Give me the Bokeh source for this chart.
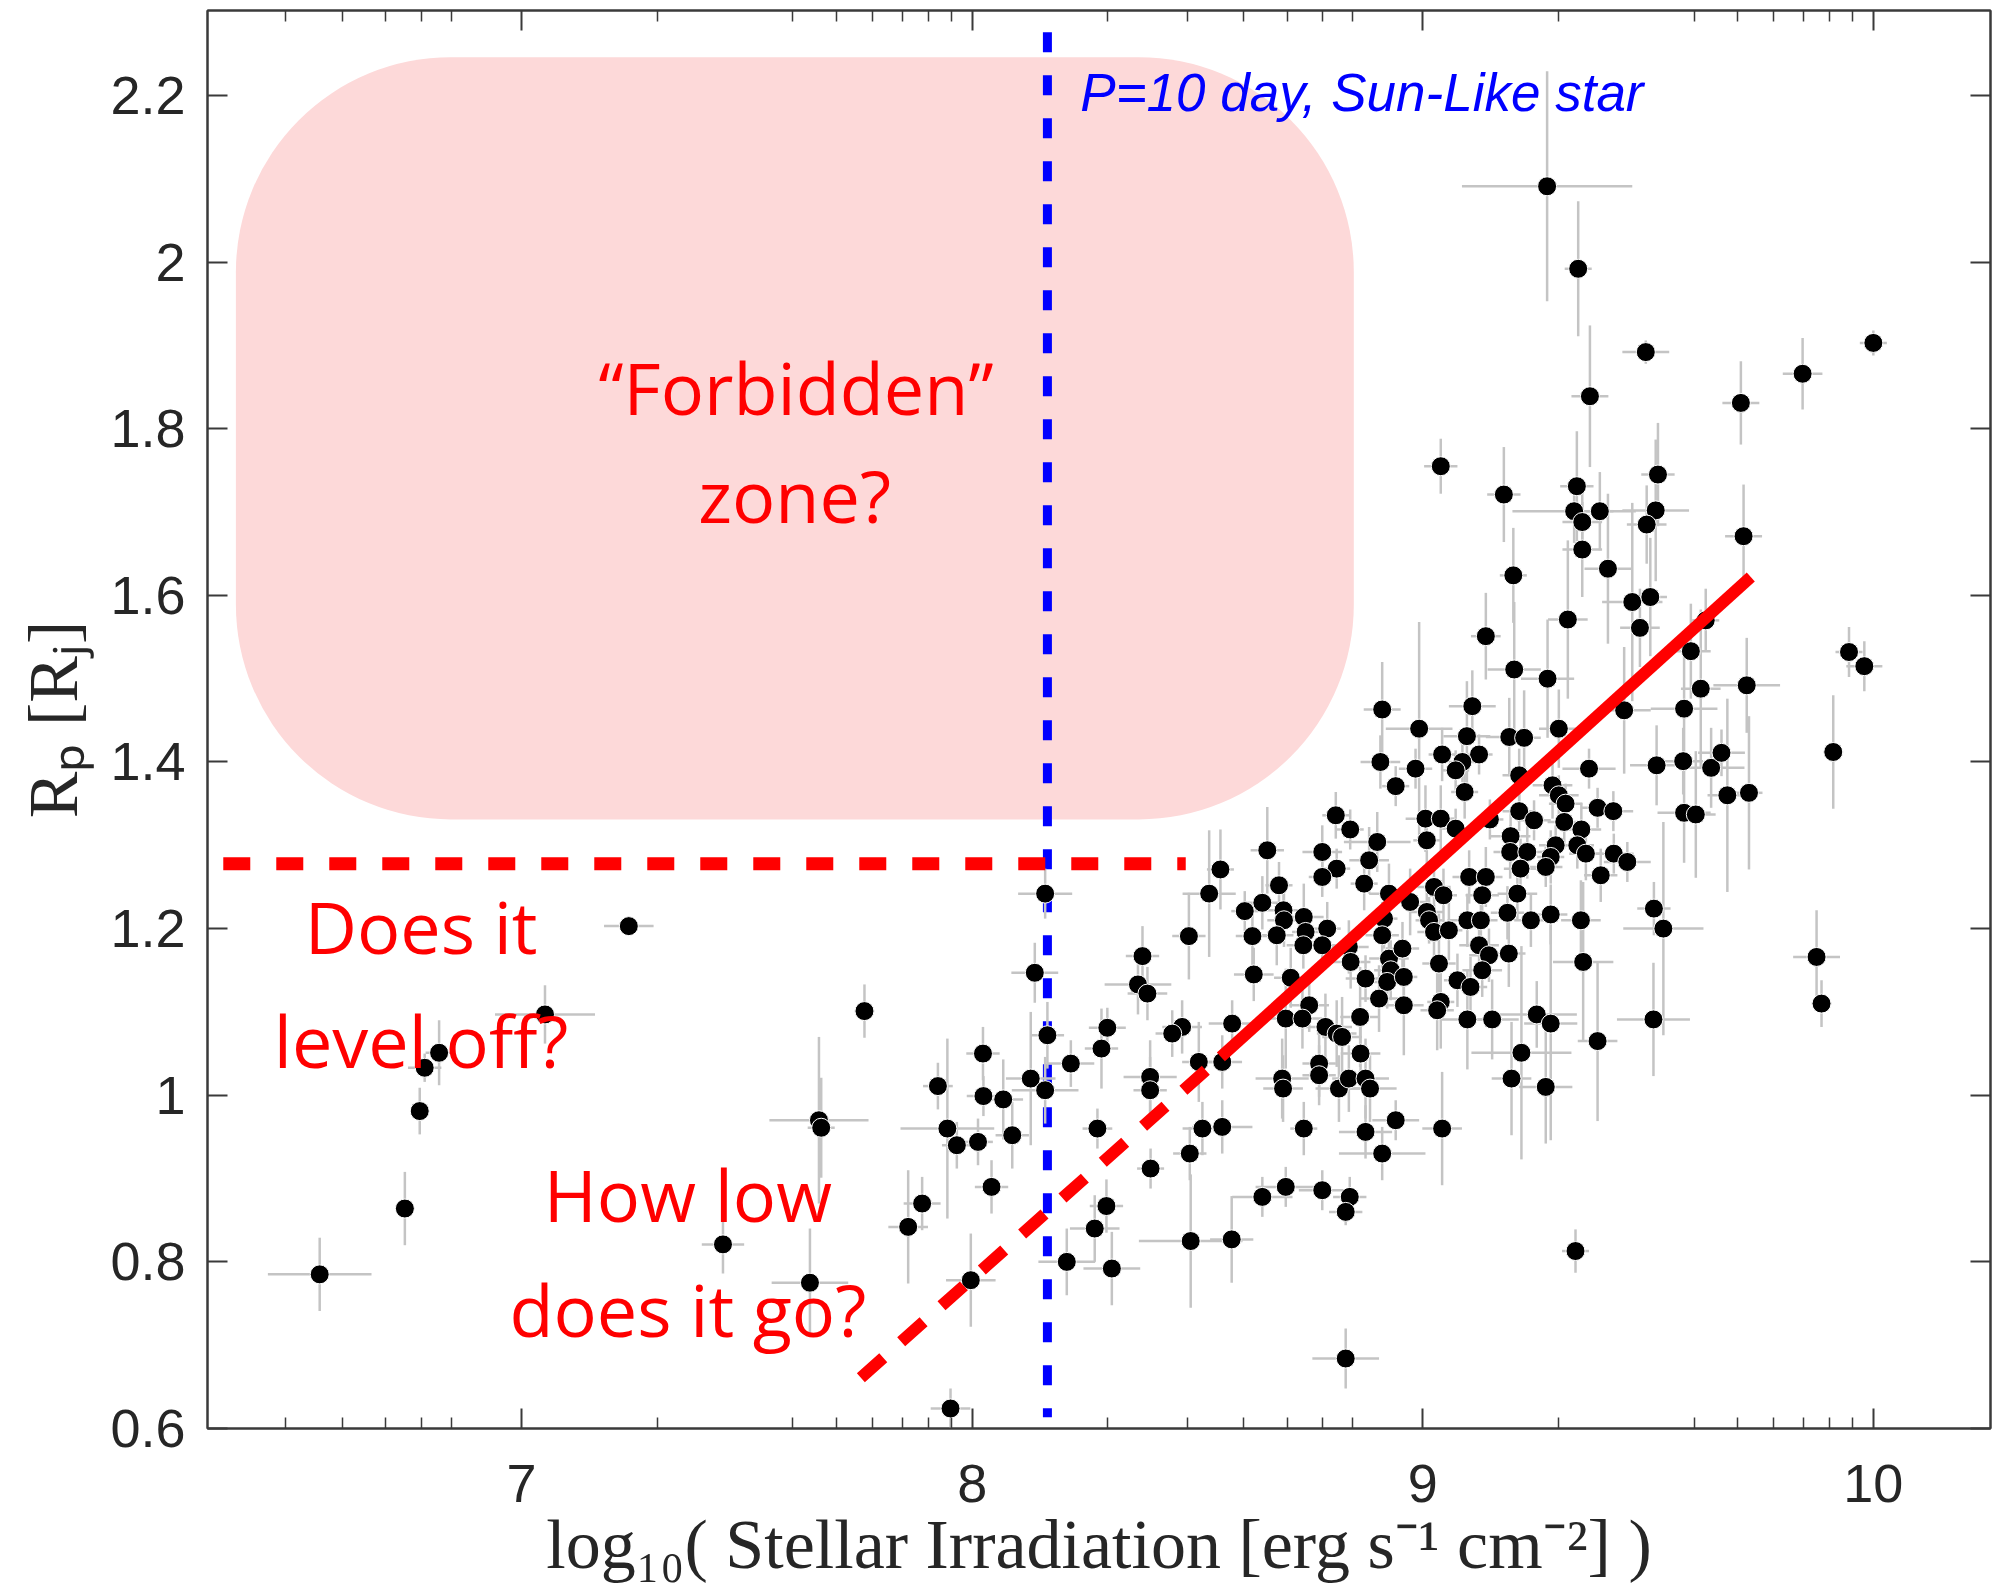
from bokeh.plotting import figure
from bokeh.models import (Range1d, LinearAxis, FixedTicker, CustomJSTickFormatter,
                          BoxAnnotation, Label)
from bokeh.embed import file_html
from bokeh.resources import INLINE

# ---------------- data ----------------
# log10 stellar irradiation, planet radius [R_J], and their error half-widths
irr = [
    8.906, 8.984, 8.940, 9.043, 8.807, 8.839, 9.006, 9.040, 9.009, 8.551,
    8.526, 8.655, 8.681, 8.777, 8.809, 8.777, 8.881, 8.870, 8.899, 8.644,
    8.605, 8.691, 8.692, 8.736, 8.740, 8.788, 8.735, 8.777, 8.836, 8.622,
    8.676, 8.481, 8.925, 8.972, 9.025, 9.046, 9.009, 9.014, 9.025, 9.058,
    8.914, 8.910, 8.840, 8.925, 8.955, 8.929, 8.873, 8.921, 8.958, 8.903,
    8.958, 9.036, 8.625, 8.707, 8.748, 8.696, 8.733, 8.784, 8.809, 8.821,
    8.861, 8.862, 8.770, 8.770, 8.688, 8.690, 8.814, 8.836, 8.873, 8.883,
    9.040, 9.032, 8.577, 8.466, 8.444, 8.503, 8.555, 8.511, 8.555, 8.736,
    8.873, 8.940, 9.043, 8.483, 8.910, 8.696, 8.777, 8.644, 8.838,
    9.125, 9.088, 9.073, 9.093, 9.073, 9.214, 9.369, 9.519, 9.578, 9.640,
    9.663, 9.911, 9.288, 9.302, 9.317, 9.388, 9.423, 9.214, 9.247, 9.314,
    9.352, 9.149, 9.195, 9.194, 9.232, 9.295, 9.284, 9.273, 9.217, 9.343,
    9.362, 9.424, 9.454, 9.395, 9.580, 9.606, 9.676, 9.724, 9.103, 9.140,
    9.132, 9.210, 9.188, 9.099, 9.129, 9.240, 9.284, 9.351, 9.513, 9.534,
    9.125, 9.147, 9.191, 9.132, 9.077, 9.106, 9.356, 9.874, 9.885, 9.099,
    9.154, 9.253, 9.284, 9.512, 9.388, 9.219, 9.197, 9.273,
    9.276, 9.345, 9.495, 9.371, 9.040, 9.180, 9.706, 9.843, 9.342, 9.336,
    9.354, 9.393, 9.354, 9.411, 9.522, 9.517, 9.497, 9.465, 9.505, 9.482,
    9.712, 9.201, 9.140, 9.203, 9.277, 9.322, 9.595, 9.617, 9.719, 9.580,
    9.447, 9.628, 9.302, 9.192, 9.225, 9.110, 9.098, 8.992, 8.910,
    7.761, 8.139, 8.167, 8.024, 7.924, 8.025, 8.069, 8.130, 8.162, 8.219,
    8.300, 8.287, 8.378, 8.368, 8.389, 8.395, 8.395, 7.945, 7.966, 8.013,
    8.089, 8.278, 8.396, 8.043, 7.889, 7.858, 8.298, 8.272, 8.485, 8.576,
    8.210, 8.310, 7.997, 7.952, 8.829, 8.829,
    6.552, 6.741, 6.774, 6.785, 6.817, 7.052, 7.238, 7.660, 7.665, 7.447,
    7.640, 8.162, 9.339, 10.000, 9.946, 9.980,
]
radius = [
    1.400, 1.392, 1.371, 1.409, 1.336, 1.319, 1.332, 1.332, 1.306, 1.271,
    1.242, 1.294, 1.252, 1.292, 1.272, 1.262, 1.282, 1.254, 1.304, 1.231,
    1.221, 1.222, 1.210, 1.214, 1.196, 1.200, 1.180, 1.180, 1.178, 1.191,
    1.192, 1.191, 1.242, 1.232, 1.250, 1.240, 1.220, 1.210, 1.196, 1.198,
    1.212, 1.192, 1.160, 1.164, 1.176, 1.150, 1.140, 1.136, 1.142, 1.116,
    1.108, 1.158, 1.145, 1.141, 1.108, 1.092, 1.092, 1.082, 1.074, 1.070,
    1.094, 1.050, 1.038, 1.024, 1.020, 1.008, 1.008, 1.020, 1.020, 1.008,
    1.112, 1.102, 1.086, 1.082, 1.074, 1.040, 1.040, 0.960, 0.962, 0.960,
    0.956, 0.970, 0.960, 0.930, 0.930, 0.890, 0.886, 0.878, 0.878,
    1.409, 1.400, 1.390, 1.364, 1.320, 1.384, 1.392, 1.396, 1.401, 1.393,
    1.411, 1.412, 1.372, 1.360, 1.350, 1.345, 1.341, 1.341, 1.330, 1.328,
    1.319, 1.331, 1.311, 1.292, 1.292, 1.300, 1.286, 1.274, 1.272, 1.300,
    1.290, 1.290, 1.280, 1.264, 1.339, 1.337, 1.360, 1.363, 1.262, 1.262,
    1.240, 1.242, 1.219, 1.210, 1.210, 1.210, 1.217, 1.210, 1.224, 1.200,
    1.180, 1.168, 1.170, 1.150, 1.138, 1.130, 1.160, 1.166, 1.110, 1.091,
    1.091, 1.097, 1.086, 1.091, 1.065, 1.051, 1.020, 1.010,
    2.091, 1.992, 1.892, 1.839, 1.755, 1.721, 1.831, 1.866, 1.731, 1.701,
    1.688, 1.701, 1.655, 1.632, 1.745, 1.702, 1.685, 1.592, 1.598, 1.561,
    1.671, 1.624, 1.551, 1.511, 1.500, 1.571, 1.533, 1.488, 1.492, 1.464,
    1.462, 1.570, 1.440, 1.430, 1.429, 1.467, 1.431, 1.440, 1.463,
    1.101, 1.147, 1.072, 1.050, 1.011, 0.999, 0.995, 1.020, 1.006, 1.038,
    1.081, 1.056, 1.167, 1.133, 1.122, 1.022, 1.006, 0.960, 0.940, 0.944,
    0.952, 0.960, 0.912, 0.890, 0.870, 0.842, 0.867, 0.840, 0.825, 0.827,
    0.800, 0.792, 0.778, 0.624, 0.860, 0.684,
    0.785, 0.864, 0.981, 1.033, 1.051, 1.097, 1.203, 0.970, 0.961, 0.821,
    0.775, 1.242, 0.813, 1.903, 1.532, 1.515,
]
irr_err = [
    0.044, 0.037, 0.030, 0.030, 0.030, 0.030, 0.044, 0.030, 0.030, 0.030,
    0.059, 0.037, 0.030, 0.044, 0.030, 0.030, 0.044, 0.030, 0.074, 0.037,
    0.030, 0.037, 0.037, 0.044, 0.030, 0.030, 0.037, 0.030, 0.044, 0.037,
    0.037, 0.037, 0.044, 0.044, 0.037, 0.030, 0.037, 0.030, 0.037, 0.030,
    0.030, 0.037, 0.044, 0.044, 0.037, 0.037, 0.044, 0.037, 0.030, 0.044,
    0.044, 0.037, 0.044, 0.037, 0.044, 0.044, 0.044, 0.059, 0.044, 0.044,
    0.044, 0.044, 0.037, 0.037, 0.059, 0.044, 0.052, 0.037, 0.052, 0.059,
    0.030, 0.037, 0.052, 0.044, 0.037, 0.037, 0.044, 0.044, 0.067, 0.030,
    0.059, 0.052, 0.044, 0.037, 0.096, 0.067, 0.052, 0.067, 0.037,
    0.030, 0.030, 0.030, 0.030, 0.030, 0.037, 0.059, 0.059, 0.044, 0.074,
    0.052, 0.022, 0.044, 0.044, 0.037, 0.037, 0.044, 0.037, 0.037, 0.037,
    0.044, 0.030, 0.044, 0.037, 0.044, 0.037, 0.030, 0.037, 0.037, 0.037,
    0.037, 0.044, 0.052, 0.037, 0.059, 0.044, 0.044, 0.030, 0.037, 0.037,
    0.037, 0.044, 0.037, 0.044, 0.037, 0.037, 0.037, 0.044, 0.037, 0.089,
    0.044, 0.044, 0.037, 0.044, 0.030, 0.037, 0.067, 0.052, 0.022, 0.059,
    0.059, 0.089, 0.059, 0.081, 0.044, 0.111, 0.044, 0.059,
    0.189, 0.030, 0.052, 0.041, 0.037, 0.037, 0.041, 0.044, 0.037, 0.137,
    0.044, 0.030, 0.044, 0.052, 0.037, 0.074, 0.044, 0.067, 0.037, 0.044,
    0.041, 0.030, 0.033, 0.059, 0.059, 0.044, 0.044, 0.044, 0.074, 0.074,
    0.059, 0.030, 0.044, 0.052, 0.037, 0.052, 0.052, 0.074, 0.041,
    0.022, 0.052, 0.037, 0.037, 0.033, 0.037, 0.044, 0.055, 0.074, 0.052,
    0.041, 0.037, 0.037, 0.074, 0.044, 0.059, 0.037, 0.104, 0.033, 0.033,
    0.037, 0.033, 0.030, 0.037, 0.041, 0.044, 0.037, 0.055, 0.115, 0.048,
    0.063, 0.063, 0.055, 0.044, 0.037, 0.074,
    0.115, 0.015, 0.015, 0.037, 0.030, 0.111, 0.055, 0.110, 0.030, 0.047,
    0.085, 0.060, 0.030, 0.030, 0.030, 0.040,
]
radius_err = [
    0.032, 0.024, 0.024, 0.032, 0.028, 0.024, 0.040, 0.040, 0.032, 0.048,
    0.076, 0.052, 0.028, 0.032, 0.024, 0.024, 0.040, 0.032, 0.036, 0.032,
    0.024, 0.032, 0.032, 0.040, 0.024, 0.032, 0.028, 0.024, 0.032, 0.040,
    0.036, 0.052, 0.036, 0.040, 0.032, 0.032, 0.028, 0.028, 0.032, 0.036,
    0.036, 0.040, 0.032, 0.032, 0.032, 0.036, 0.028, 0.032, 0.028, 0.040,
    0.060, 0.060, 0.032, 0.036, 0.032, 0.060, 0.036, 0.040, 0.040, 0.048,
    0.060, 0.036, 0.040, 0.036, 0.048, 0.040, 0.040, 0.040, 0.048, 0.040,
    0.056, 0.048, 0.028, 0.032, 0.028, 0.048, 0.032, 0.032, 0.032, 0.032,
    0.032, 0.024, 0.068, 0.032, 0.032, 0.024, 0.024, 0.024, 0.024,
    0.024, 0.024, 0.024, 0.032, 0.024, 0.032, 0.024, 0.048, 0.040, 0.048,
    0.028, 0.068, 0.040, 0.024, 0.024, 0.024, 0.024, 0.024, 0.024, 0.032,
    0.032, 0.024, 0.032, 0.032, 0.032, 0.024, 0.032, 0.024, 0.036, 0.028,
    0.032, 0.024, 0.024, 0.032, 0.060, 0.076, 0.116, 0.092, 0.032, 0.036,
    0.032, 0.032, 0.032, 0.032, 0.032, 0.032, 0.036, 0.048, 0.032, 0.128,
    0.040, 0.032, 0.040, 0.032, 0.032, 0.036, 0.096, 0.056, 0.028, 0.060,
    0.048, 0.040, 0.140, 0.068, 0.096, 0.128, 0.068, 0.068,
    0.138, 0.081, 0.014, 0.085, 0.033, 0.057, 0.050, 0.043, 0.066, 0.038,
    0.038, 0.047, 0.057, 0.090, 0.062, 0.085, 0.047, 0.119, 0.071, 0.047,
    0.062, 0.057, 0.052, 0.081, 0.071, 0.095, 0.057, 0.095, 0.057, 0.071,
    0.076, 0.038, 0.047, 0.047, 0.057, 0.043, 0.066, 0.128, 0.057,
    0.032, 0.036, 0.040, 0.032, 0.028, 0.024, 0.048, 0.080, 0.040, 0.028,
    0.024, 0.048, 0.036, 0.036, 0.032, 0.044, 0.040, 0.108, 0.028, 0.028,
    0.040, 0.024, 0.024, 0.032, 0.032, 0.068, 0.032, 0.040, 0.080, 0.052,
    0.040, 0.044, 0.056, 0.024, 0.016, 0.036,
    0.044, 0.044, 0.028, 0.017, 0.039, 0.035, 0.010, 0.100, 0.060, 0.035,
    0.065, 0.030, 0.026, 0.015, 0.030, 0.030,
]

x_major = [7, 8, 9, 10]
x_minor = [6.477, 6.602, 6.699, 6.778, 6.845,
           7.301, 7.602, 7.699, 7.778, 7.845, 7.903, 7.954,
           8.301, 8.477, 8.602, 8.699, 8.778, 8.845,
           9.301, 9.602, 9.699, 9.778, 9.845, 9.903, 9.954]
y_major = [0.6, 0.8, 1.0, 1.2, 1.4, 1.6, 1.8, 2.0, 2.2]

# annotation geometry (data units)
zone_box = dict(left=6.366, right=8.847, bottom=1.331, top=2.246)
p10_x = 8.167
p10_y = [2.276, 0.6135]
level_y = 1.278
level_x = [6.338, 8.474]
trend_x = [8.552, 9.728]
trend_y = [1.046, 1.622]
extrap_x = [7.753, 8.552]
extrap_y = [0.661, 1.046]

# ---------------- figure ----------------
p = figure(width=1992, height=1591, output_backend="svg", toolbar_location=None,
           x_range=Range1d(6.303, 10.26), y_range=Range1d(0.6, 2.302),
           min_border_left=207, min_border_right=2, min_border_top=10,
           min_border_bottom=163, background_fill_color="white",
           border_fill_color="white")
p.xgrid.visible = False
p.ygrid.visible = False
p.outline_line_color = "#3a3a3a"
p.outline_line_width = 2

AX = "#3a3a3a"


def style_axis(ax, ticker):
    ax.ticker = ticker
    ax.axis_line_color = AX
    ax.axis_line_width = 2
    ax.major_tick_in = 20
    ax.major_tick_out = 0
    ax.minor_tick_in = 11
    ax.minor_tick_out = 0
    ax.major_tick_line_color = AX
    ax.major_tick_line_width = 2
    ax.minor_tick_line_color = AX
    ax.minor_tick_line_width = 1.5
    ax.major_label_text_font = "Liberation Sans"
    ax.major_label_text_font_size = "54px"
    ax.major_label_text_color = "#262626"


xt = FixedTicker(ticks=x_major, minor_ticks=x_minor)
yt = FixedTicker(ticks=y_major, minor_ticks=[])

xb = p.xaxis[0]
style_axis(xb, xt)
xb.major_label_standoff = 36
xb.axis_label = "log\u2081\u2080( Stellar Irradiation [erg s\u207b\u00b9 cm\u207b\u00b2] )"
xb.axis_label_text_font = "Liberation Serif"
xb.axis_label_text_font_style = "normal"
xb.axis_label_text_font_size = "70px"
xb.axis_label_text_color = "#262626"
xb.axis_label_standoff = 1

yl = p.yaxis[0]
style_axis(yl, yt)
yl.major_label_standoff = 22
yl.formatter = CustomJSTickFormatter(code="return String(Math.round(tick*10)/10);")
yl.axis_label = "R\u209a [R\u2c7c]"
yl.axis_label_text_font = "Liberation Serif"
yl.axis_label_text_font_style = "normal"
yl.axis_label_text_font_size = "70px"
yl.axis_label_text_color = "#262626"
yl.axis_label_standoff = 15

blank = CustomJSTickFormatter(code="return '';")
xtop = LinearAxis()
style_axis(xtop, FixedTicker(ticks=x_major, minor_ticks=x_minor))
xtop.formatter = blank
xtop.major_label_text_font_size = "0px"
xtop.major_label_standoff = 0
p.add_layout(xtop, "above")

yr = LinearAxis()
style_axis(yr, FixedTicker(ticks=y_major, minor_ticks=[]))
yr.formatter = blank
yr.major_label_text_font_size = "0px"
yr.major_label_standoff = 0
p.add_layout(yr, "right")

# pink "forbidden" zone
p.add_layout(BoxAnnotation(**zone_box, fill_color="#fdd9d9", fill_alpha=1.0,
                           line_color=None, border_radius=215, level="underlay"))

# P = 10 day line (under the points)
p.line([p10_x, p10_x], p10_y, line_color="#0000ff", line_width=9, line_dash="20 23",
       line_cap="butt")

# error bars
ERR = "#c4c4c4"
p.segment(x0=[a - e for a, e in zip(irr, irr_err)], y0=radius,
          x1=[a + e for a, e in zip(irr, irr_err)], y1=radius,
          line_color=ERR, line_width=2.5)
p.segment(x0=irr, y0=[b - e for b, e in zip(radius, radius_err)],
          x1=irr, y1=[b + e for b, e in zip(radius, radius_err)],
          line_color=ERR, line_width=2.5)

# planets
p.scatter(irr, radius, size=19, fill_color="black", line_color="white", line_width=1)

# red guide lines
p.line(level_x, [level_y, level_y], line_color="#ff0000", line_width=13,
       line_dash="27 26", line_cap="butt")
p.line(trend_x, trend_y, line_color="#ff0000", line_width=12, line_cap="butt")
p.line(extrap_x, extrap_y, line_color="#ff0000", line_width=12, line_dash="30 24",
       line_cap="butt")

# texts
p.add_layout(Label(x=8.240, y=2.203, text="P=10 day, Sun-Like star",
                   text_font="Liberation Sans", text_font_style="italic",
                   text_font_size="53px", text_color="#0000ff",
                   text_baseline="alphabetic", text_align="left"))

RED = "#ff0000"
hand = [("\u201cForbidden\u201d", 7.609, 1.850), ("zone?", 7.606, 1.721),
        ("Does it", 6.777, 1.203), ("level off?", 6.777, 1.066),
        ("How low", 7.369, 0.882), ("does it go?", 7.369, 0.744)]
for t, tx, ty in hand:
    p.add_layout(Label(x=tx, y=ty, text=t, text_font="Open Sans",
                       text_font_size="72px", text_color=RED,
                       text_align="center", text_baseline="alphabetic"))

open("out.html", "w").write(file_html(p, INLINE))
